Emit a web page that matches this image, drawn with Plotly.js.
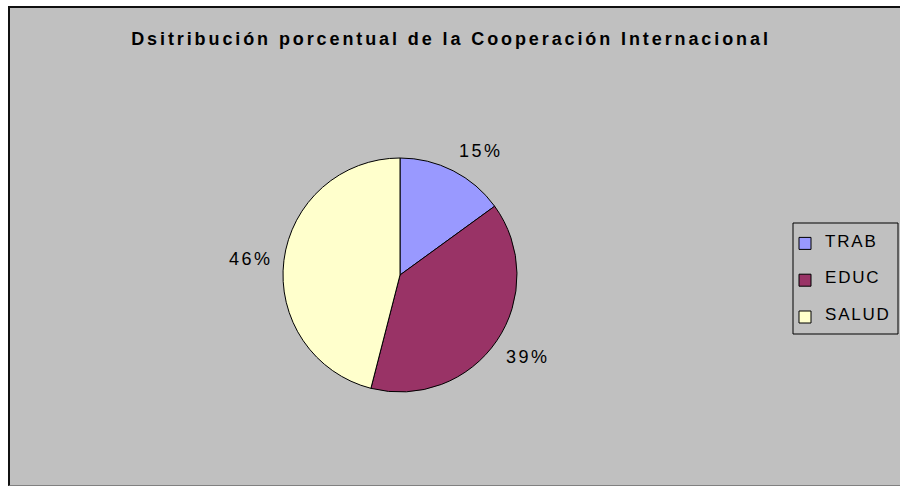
<!DOCTYPE html>
<html>
<head>
<meta charset="utf-8">
<script src="https://cdn.plot.ly/plotly-3.0.1.min.js"></script>
<style>
  html, body { margin: 0; padding: 0; background: #ffffff; width: 900px; height: 487px; overflow: hidden; }
  #frame { position: absolute; left: 8px; top: 6px; width: 892px; height: 480px;
           border-left: 2px solid #111; border-top: 2px solid #111; border-bottom: 1px solid #808080;
           box-sizing: border-box; background: #C0C0C0; }
  #chart { width: 890px; height: 477px; }
  .gtitle { letter-spacing: 2.9px; }
  .legendtext { letter-spacing: 1.8px; transform: translateY(-7px); }
  .annotation-text { letter-spacing: 2.5px; }
</style>
</head>
<body>
<div id="frame"><div id="chart"></div></div>
<script>
const categories = ["TRAB", "EDUC", "SALUD"];
const shares = [15, 39, 46];
const percentLabels = ["15%", "39%", "46%"];
const sliceColors = ["#9999FF", "#993366", "#FFFFCC"];

const FONT = "Arial, 'Liberation Sans', sans-serif";
const W = 890, H = 477;
const cx = 390, cy = 267, r = 117;
const labelDist = r + 10;

const total = shares.reduce((a, b) => a + b, 0);
let cum = 0;
const annotations = shares.map((v, i) => {
  const mid = (cum + v / 2) / total * 2 * Math.PI;
  cum += v;
  const s = Math.sin(mid), c = Math.cos(mid);
  const px = cx + labelDist * s;
  const py = cy - labelDist * c;
  return {
    x: px / W, y: 1 - py / H, xref: "paper", yref: "paper",
    text: percentLabels[i], showarrow: false,
    xanchor: Math.abs(s) < 0.3 ? "center" : (s > 0 ? "left" : "right"),
    yanchor: Math.abs(c) < 0.35 ? "middle" : (c > 0 ? "bottom" : "top"),
    borderpad: 0,
    font: { family: FONT, size: 18, color: "#000" }
  };
});

const trace = {
  type: "pie",
  labels: categories.map(c => '<span style="font-size:17px">' + c + '</span>'),
  values: shares,
  sort: false,
  direction: "clockwise",
  rotation: 0,
  textinfo: "none",
  hoverinfo: "label+percent",
  marker: { colors: sliceColors, line: { color: "#000000", width: 1 } },
  domain: { x: [(cx - r) / W, (cx + r) / W], y: [1 - (cy + r) / H, 1 - (cy - r) / H] }
};

// legend frame (pixel box in chart coords)
const lg = { x0: 783, x1: 888, y0: 215, y1: 326 };

const layout = {
  width: W, height: H,
  margin: { l: 0, r: 0, t: 0, b: 0, autoexpand: false },
  paper_bgcolor: "#C0C0C0",
  plot_bgcolor: "#C0C0C0",
  title: {
    text: "<b>Dsitribución porcentual de la Cooperación Internacional</b>",
    font: { family: FONT, size: 18, color: "#000" },
    x: 441 / W, xanchor: "center", y: 1 - 31 / H, yanchor: "middle", xref: "container", yref: "container"
  },
  showlegend: true,
  legend: {
    xref: "paper", yref: "paper",
    x: 775 / W, xanchor: "left", y: 1 - 212 / H, yanchor: "top",
    bgcolor: "rgba(0,0,0,0)", borderwidth: 0,
    font: { family: FONT, size: 26, color: "#000" }
  },
  shapes: [{
    type: "rect", xref: "paper", yref: "paper",
    x0: lg.x0 / W, x1: lg.x1 / W, y0: 1 - lg.y1 / H, y1: 1 - lg.y0 / H,
    line: { color: "#000", width: 1 }, fillcolor: "rgba(0,0,0,0)"
  }],
  annotations: annotations
};

Plotly.newPlot("chart", [trace], layout, { displayModeBar: false, staticPlot: true });
</script>
</body>
</html>
